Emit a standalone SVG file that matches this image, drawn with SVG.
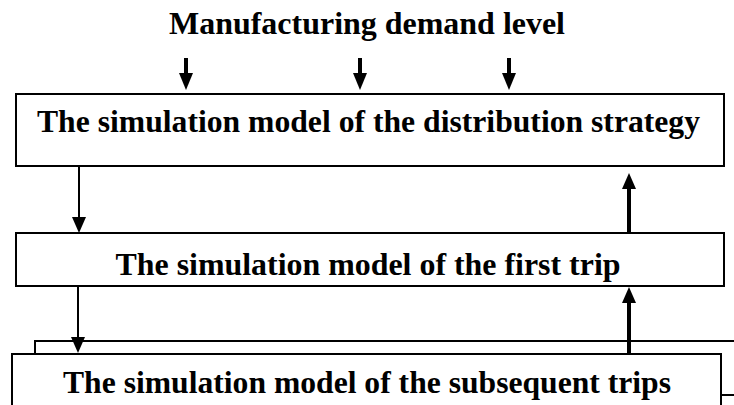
<svg xmlns="http://www.w3.org/2000/svg" width="734" height="405" viewBox="0 0 734 405">
  <style>
    .box { fill: #ffffff; stroke: #000000; stroke-width: 2; }
    .lbl { font-family: "Liberation Serif", "Times New Roman", serif; font-weight: bold; font-size: 32px; fill: #000000; text-anchor: middle; }
    .line { stroke: #000000; stroke-width: 2; fill: none; }
    .thick { stroke: #000000; stroke-width: 4; fill: none; }
    .head { fill: #000000; }
  </style>
  <rect width="734" height="405" fill="#ffffff"/>

  <text class="lbl" x="367" y="34" textLength="396" lengthAdjust="spacingAndGlyphs">Manufacturing demand level</text>

  <!-- layered box drawn behind the subsequent-trips box -->
  <g id="stack-back">
    <polyline class="line" points="35,354 35,341 734,341"/>
    <line class="line" x1="721" y1="395" x2="734" y2="395"/>
  </g>

  <g id="distribution-strategy">
    <rect class="box" x="16" y="94" width="708" height="72"/>
    <text class="lbl" x="368.5" y="132" textLength="663" lengthAdjust="spacingAndGlyphs">The simulation model of the distribution strategy</text>
  </g>

  <g id="first-trip">
    <rect class="box" x="16" y="233" width="708" height="53"/>
    <text class="lbl" x="368" y="275" textLength="505" lengthAdjust="spacingAndGlyphs">The simulation model of the first trip</text>
  </g>

  <g id="subsequent-trips">
    <rect class="box" x="12" y="354" width="709" height="60"/>
    <text class="lbl" x="367" y="393" textLength="608" lengthAdjust="spacingAndGlyphs">The simulation model of the subsequent trips</text>
  </g>

  <g id="connectors">
    <!-- demand inputs -->
    <line class="thick" x1="186" y1="58" x2="186" y2="74"/>
    <polygon class="head" points="179,73 193,73 186,90"/>
    <line class="thick" x1="360" y1="58" x2="360" y2="74"/>
    <polygon class="head" points="353,73 367,73 360,90"/>
    <line class="thick" x1="509" y1="58" x2="509" y2="74"/>
    <polygon class="head" points="502,73 516,73 509,90"/>

    <!-- strategy -> first trip -->
    <line class="line" x1="79" y1="167" x2="79" y2="218"/>
    <polygon class="head" points="72,217 86,217 79,233"/>
    <!-- first trip -> strategy -->
    <line class="thick" x1="629" y1="233" x2="629" y2="188"/>
    <polygon class="head" points="622,189 636,189 629,173"/>

    <!-- first trip -> subsequent trips -->
    <line class="line" x1="78" y1="287" x2="78" y2="338"/>
    <polygon class="head" points="71,337 85,337 78,353"/>
    <!-- subsequent trips -> first trip -->
    <line class="thick" x1="629" y1="353" x2="629" y2="302"/>
    <polygon class="head" points="622,303 636,303 629,287"/>
  </g>
</svg>
